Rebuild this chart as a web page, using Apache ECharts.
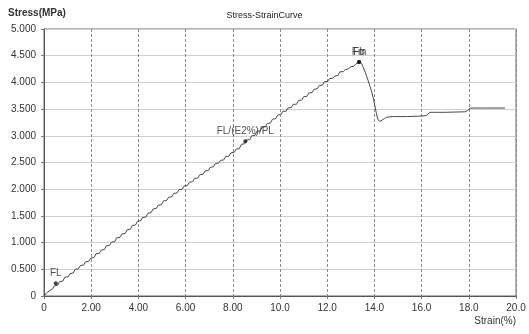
<!DOCTYPE html>
<html>
<head>
<meta charset="utf-8">
<title>Stress-StrainCurve</title>
<script src="https://cdn.jsdelivr.net/npm/echarts@6/dist/echarts.min.js"></script>
<style>
  html, body { margin: 0; padding: 0; background: #fff; }
  #chart { width: 529px; height: 334px; }
</style>
</head>
<body>
<div id="chart"></div>
<script>
// Tensile test record: strain (%) against stress (MPa)
const curve = [
  [0.00, 0.00], [0.14, 0.07], [0.22, 0.10], [0.36, 0.13], [0.44, 0.19], [0.58, 0.20],
  [0.66, 0.27], [0.80, 0.28], [0.88, 0.35], [1.02, 0.36], [1.10, 0.42], [1.24, 0.43],
  [1.32, 0.50], [1.46, 0.51], [1.54, 0.57], [1.68, 0.58], [1.76, 0.64], [1.90, 0.65],
  [1.98, 0.71], [2.12, 0.72], [2.20, 0.79], [2.34, 0.80], [2.42, 0.86], [2.56, 0.87],
  [2.64, 0.94], [2.78, 0.95], [2.86, 1.01], [3.00, 1.02], [3.08, 1.09], [3.22, 1.10],
  [3.30, 1.16], [3.44, 1.17], [3.52, 1.24], [3.66, 1.25], [3.74, 1.32], [3.88, 1.33],
  [3.96, 1.40], [4.10, 1.41], [4.18, 1.47], [4.32, 1.48], [4.40, 1.55], [4.54, 1.56],
  [4.62, 1.63], [4.76, 1.64], [4.84, 1.70], [4.98, 1.71], [5.06, 1.78], [5.20, 1.79],
  [5.28, 1.85], [5.42, 1.86], [5.50, 1.92], [5.64, 1.93], [5.72, 1.99], [5.86, 2.00],
  [5.94, 2.06], [6.08, 2.07], [6.16, 2.13], [6.30, 2.14], [6.38, 2.20], [6.52, 2.21],
  [6.60, 2.27], [6.74, 2.28], [6.82, 2.34], [6.96, 2.35], [7.04, 2.41], [7.18, 2.42],
  [7.26, 2.48], [7.40, 2.49], [7.48, 2.54], [7.62, 2.55], [7.70, 2.61], [7.84, 2.62],
  [7.92, 2.68], [8.06, 2.69], [8.14, 2.75], [8.28, 2.76], [8.36, 2.84], [8.50, 2.85],
  [8.58, 2.92], [8.72, 2.93], [8.80, 3.00], [8.94, 3.01], [9.02, 3.08], [9.16, 3.09],
  [9.24, 3.16], [9.38, 3.17], [9.46, 3.23], [9.60, 3.24], [9.68, 3.31], [9.82, 3.32],
  [9.90, 3.39], [10.04, 3.40], [10.12, 3.46], [10.26, 3.46], [10.34, 3.52], [10.48, 3.53],
  [10.56, 3.59], [10.70, 3.59], [10.78, 3.66], [10.92, 3.67], [11.00, 3.73], [11.14, 3.74],
  [11.22, 3.80], [11.36, 3.81], [11.44, 3.87], [11.58, 3.88], [11.66, 3.94], [11.80, 3.95],
  [11.88, 4.01], [12.02, 4.02], [12.10, 4.07], [12.24, 4.08], [12.32, 4.12], [12.46, 4.13],
  [12.54, 4.20], [12.68, 4.20], [12.76, 4.24], [12.90, 4.25], [12.98, 4.29], [13.12, 4.30],
  [13.20, 4.34], [13.35, 4.38], [13.45, 4.36], [13.52, 4.29], [13.62, 4.18], [13.73, 4.04],
  [13.82, 3.92], [13.90, 3.80], [13.97, 3.67], [14.03, 3.54], [14.09, 3.41], [14.15, 3.30],
  [14.24, 3.27], [14.32, 3.28], [14.42, 3.32], [14.53, 3.35], [14.80, 3.36], [15.40, 3.36],
  [16.00, 3.37], [16.20, 3.38], [16.35, 3.44], [17.00, 3.44], [17.85, 3.45], [17.95, 3.47],
  [18.05, 3.52], [18.80, 3.52], [19.53, 3.52]
];

// Characteristic points picked on the curve
const pointNames = ['FL', 'FL/(E2%)/PL', 'Fm', 'Fb'];
const pointStrain = [0.50, 8.53, 13.35, 13.35];
const pointStress = [0.24, 2.90, 4.38, 4.38];

const xTicks = { min: 0, max: 20, step: 2 };
const yTicks = { min: 0, max: 5, step: 0.5 };

const chart = echarts.init(document.getElementById('chart'), null, { renderer: 'canvas' });

const fontFamily = '"Liberation Sans", Arial, sans-serif';

chart.setOption({
  animation: false,
  backgroundColor: '#ffffff',
  textStyle: { fontFamily: fontFamily },
  title: {
    text: 'Stress-StrainCurve',
    left: 'center',
    top: 6,
    textStyle: { fontSize: 9, fontWeight: 'normal', color: '#222', fontFamily: fontFamily }
  },
  // x-axis caption sits under the right end of the axis, below the tick labels
  graphic: [{
    type: 'text',
    right: 13,
    top: 316,
    style: { text: 'Strain(%)', fill: '#333', font: '10px "Liberation Sans", Arial, sans-serif' }
  }],
  grid: {
    left: 44, right: 13, top: 29, bottom: 38,
    outerBoundsMode: 'none',
    containLabel: false,
    show: true, borderColor: '#666', borderWidth: 1, backgroundColor: 'transparent'
  },
  xAxis: {
    type: 'value',
    min: xTicks.min, max: xTicks.max, interval: xTicks.step,
    axisLine: { lineStyle: { color: '#555', width: 1 } },
    axisTick: { show: true, length: 3, lineStyle: { color: '#777' } },
    axisLabel: {
      fontSize: 10, color: '#333', margin: 7,
      formatter: v => v === 0 ? '0' : (v < 10 ? v.toFixed(2) : v.toFixed(1))
    },
    splitLine: { show: true, lineStyle: { color: '#8a8a8a', type: [3, 2], width: 1 } }
  },
  yAxis: {
    type: 'value',
    min: yTicks.min, max: yTicks.max, interval: yTicks.step,
    name: 'Stress(MPa)',
    nameLocation: 'end',
    nameGap: 11,
    nameTextStyle: { align: 'center', padding: [0, 14, 0, 0], fontSize: 10, fontWeight: 'bold', color: '#333' },
    axisLine: { show: true, lineStyle: { color: '#555', width: 1 } },
    axisTick: { show: true, length: 3, lineStyle: { color: '#777' } },
    axisLabel: {
      fontSize: 10, color: '#333', margin: 8,
      formatter: v => v === 0 ? '0' : v.toFixed(3)
    },
    splitLine: { show: true, lineStyle: { color: '#cfcfcf', width: 1 } }
  },
  series: [
    {
      type: 'line',
      data: curve,
      showSymbol: false,
      lineStyle: { color: '#4a4a4a', width: 1 },
      z: 2
    },
    {
      type: 'scatter',
      data: pointNames.map((n, i) => ({ name: n, value: [pointStrain[i], pointStress[i]] })),
      symbol: 'circle',
      symbolSize: 4,
      itemStyle: { color: '#111' },
      label: {
        show: true,
        position: 'top',
        distance: 3,
        formatter: p => p.name,
        fontSize: 10,
        color: '#222',
        fontFamily: fontFamily
      },
      labelLayout: { hideOverlap: false },
      z: 3
    }
  ]
});
</script>
</body>
</html>
